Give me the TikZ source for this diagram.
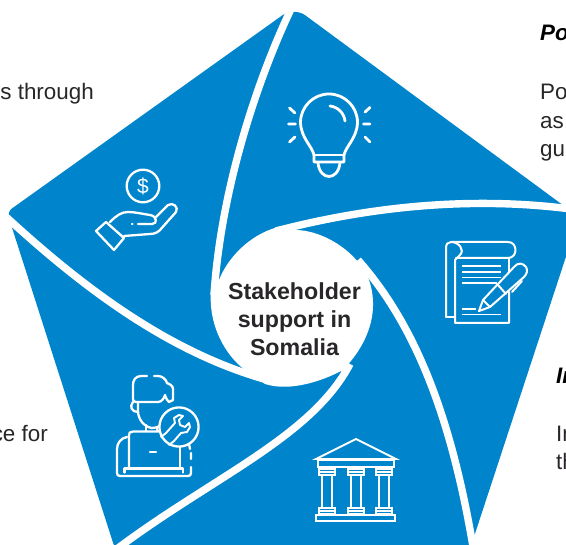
\documentclass[tikz,border=0pt]{standalone}
\usepackage{fontspec}
\setmainfont{Liberation Sans}
\definecolor{panel}{RGB}{0,133,204}
\definecolor{ink}{RGB}{40,38,40}
\tikzset{
  x=1pt,y=-1pt,
  icon/.style={draw=white,line width=2.3pt,line cap=round,line join=round},
  iconthin/.style={draw=white,line width=1.8pt,line cap=butt,line join=miter},
  spiral/.style={draw=white,line width=7.4pt,line cap=butt},
  body/.style={text=ink,font=\fontsize{22.4}{29}\selectfont,inner sep=0pt},
  head/.style={text=black,font=\fontsize{22.4}{29}\selectfont\bfseries\itshape,inner sep=0pt},
}
\begin{document}
\begin{tikzpicture}
\useasboundingbox (0,0) rectangle (566,545);
\clip (0,0) rectangle (566,545);
% pentagon
\fill[panel] (100,145.6)
  [rounded corners=14pt] -- (294,7)
  [rounded corners=3pt] -- (579,217)
  [rounded corners=0pt] -- (468,555) -- (118,555)
  [rounded corners=10pt] -- (116,552)
  [rounded corners=6pt] -- (7,212)
  [rounded corners=0pt] -- cycle;
% spiral arms
\draw[spiral] (293,5) .. controls (266,60) and (222,175) .. (214,295);
\draw[spiral] (585,211) .. controls (500,198) and (395,200) .. (276,231);
\draw[spiral] (476,565) .. controls (455,430) and (420,330) .. (358,260);
\draw[spiral] (105,558) .. controls (205,480) and (310,440) .. (350,364);
\draw[spiral] (4,215) .. controls (80,285) and (170,355) .. (275,382);
% central blob
\fill[white] (216,290) .. controls (222,262) and (250,232) .. (283,226)
  -- (295,230) .. controls (320,230) and (348,247) .. (361,266)
  -- (362,265) .. controls (380,295) and (378,335) .. (341,372)
  -- (341,371) .. controls (322,381) and (290,392) .. (265,384)
  -- (245,370) .. controls (225,355) and (208,325) .. (211,290) -- cycle;
\node[align=center,text=ink,inner sep=0pt,font=\fontsize{23.2}{28}\selectfont\bfseries] (hub) at (294.5,319.5) {Stakeholder\\support in\\Somalia};
% cropped texts
\node[body,anchor=base east] (t1) at (94,100) {s through};
\node[body,anchor=base east] (t2) at (48,442) {ce for};
\node[head,anchor=base west] (t3) at (540,41) {Po};
\node[body,anchor=base west] (t4) at (540,100) {Po};
\node[body,anchor=base west] (t5) at (540,128.5) {as};
\node[body,anchor=base west] (t6) at (540,157) {gu};
\node[head,anchor=base west] (t7) at (556,384) {In};
\node[body,anchor=base west] (t8) at (556,442) {In};
\node[body,anchor=base west] (t9) at (556,470) {th};
% bulb
\begin{scope}[icon,line width=2.8pt]
\draw (314,155) .. controls (312,146) and (301,138) .. (300.5,122.5)
  .. controls (300.5,106.8) and (313.3,94) .. (329,94)
  .. controls (344.7,94) and (357.5,106.8) .. (357.5,122.5)
  .. controls (357,138) and (346,146) .. (344,155) -- (344,162) -- (314,162) -- cycle;
\draw (314,155) -- (344,155);
\draw (318,163) .. controls (319,172) and (324,176.5) .. (329,176.5) .. controls (334,176.5) and (339,172) .. (340,163);
\draw (330,106) .. controls (338,107) and (344,113) .. (345,121);
\draw (288.5,124) -- (295.5,124) (289.5,108) -- (295,113) (289.5,142) -- (295,137);
\draw (363.5,124) -- (370,124) (365,112) -- (370,107.5) (365,137) -- (370,142);
\end{scope}
% hand with coin
\draw[icon] (143,186) circle (16.3);
\node[text=white,inner sep=0pt,font=\fontsize{21}{21}\selectfont] (dollar) at (143,186) {\$};
\begin{scope}[icon]
\draw (96,231) -- (106,222) -- (124,238) -- (114,250) -- cycle;
\draw (110,222) .. controls (116,216) and (121,212) .. (128,212) .. controls (135,212) and (143,214) .. (150,215) .. controls (157,216) and (158,224) .. (152,224) -- (138,224);
\draw (124,236) -- (150,234) .. controls (155,234) and (158,232) .. (160,230) -- (176,212) .. controls (179,207) and (173,202) .. (168,205) -- (156,217);
\draw (132,224) -- (132.5,224);
\end{scope}
% documents with pen
\begin{scope}[icon,line width=2pt]
\draw (446,317) -- (446,248) .. controls (446,244) and (448,242) .. (451,242) -- (508,242) .. controls (518,242) and (518,258) .. (508,258) -- (456,258);
\draw (451,242) .. controls (459,242) and (465,250) .. (460,255) .. controls (458,258) and (456,258) .. (455,260) -- (455,323) -- (509,323) -- (509,292);
\draw (446,317) -- (454,317);
\draw (509,258) -- (509,281);
\end{scope}
\begin{scope}[iconthin]
\draw (462,266) -- (501,266) (462,272) -- (501,272) (462,277.5) -- (501,277.5) (462,283) -- (497,283);
\draw (462,309) -- (476,309) (462,314.5) -- (501,314.5);
\end{scope}
\begin{scope}[icon,line width=2pt]
\draw[fill=panel] (479,311) -- (483,300) -- (514,267) .. controls (518,262) and (523,263) .. (526,267) .. controls (528,270) and (527,274) .. (524,277) -- (490,307) -- cycle;
\draw (483,300) -- (490,307);
\draw (498,285) -- (506,294);
\draw (512,292) -- (522,281);
\end{scope}
% temple
\begin{scope}[iconthin]
\draw (316,459) -- (356,439) -- (396,459) -- cycle;
\draw (318,460) rectangle (394,467);
\foreach \cx in {327,356,384}{
  \draw (\cx-8,469) rectangle (\cx+8,475);
  \draw (\cx-8,472) -- (\cx+8,472);
  \draw (\cx-5,475) -- (\cx-5,508) (\cx+5,475) -- (\cx+5,508);
  \draw (\cx-8,508) rectangle (\cx+8,514);
  \draw (\cx-8,511) -- (\cx+8,511);
}
\draw (316,515) rectangle (395,521);
\end{scope}
% technician
\begin{scope}[icon]
\draw (147,376) -- (141,376) .. controls (135,376) and (133,381) .. (133,385) -- (133,399) .. controls (133,401) and (134,402) .. (136,402) -- (158,402) .. controls (162,402) and (164,398) .. (165,395) .. controls (166,399) and (168,401) .. (169,402) -- (173,400) -- (173,389) .. controls (173,385) and (169,384) .. (167,383) .. controls (166,379) and (162,376) .. (158,376) -- (154,376);
\draw (133,402) .. controls (129,407) and (132,412) .. (138,412);
\draw (138,402) -- (138,411) .. controls (138,419) and (144,427) .. (152,428) .. controls (158,428) and (162,425) .. (165,421);
\draw (146,425) -- (146,431) (157,428) -- (157,431) -- (162,431);
\draw (160,431.5) -- (133,431.5) .. controls (130,431.5) and (129,433) .. (129,435) -- (129,468);
\draw (180,446) -- (180,468);
\draw (150,452) -- (156,452);
\draw (124.5,472.5) -- (124.5,468.5) -- (183,468.5) -- (183,472.5);
\draw (127,437) .. controls (121,438) and (117,443) .. (117,449) -- (117,473) .. controls (117,475) and (118,476) .. (120,476) -- (188,476) .. controls (190,476) and (191,475) .. (191,473) -- (191,467);
\draw (191,453) -- (191,459) (189,444) -- (190,449);
\draw[fill=panel] (179,427) circle (19.6);
\draw[line width=1.9pt] (166,433) -- (175,423) -- (174,418) -- (179,415) -- (183,416) -- (179,420) -- (180,425) -- (185,427) -- (189,423) -- (190,427) -- (187,432) -- (181,433) -- (174,441);
\draw[line width=1.9pt] (166,433) -- (161,437) (174,441) -- (169,445);
\end{scope}
\end{tikzpicture}
\end{document}
